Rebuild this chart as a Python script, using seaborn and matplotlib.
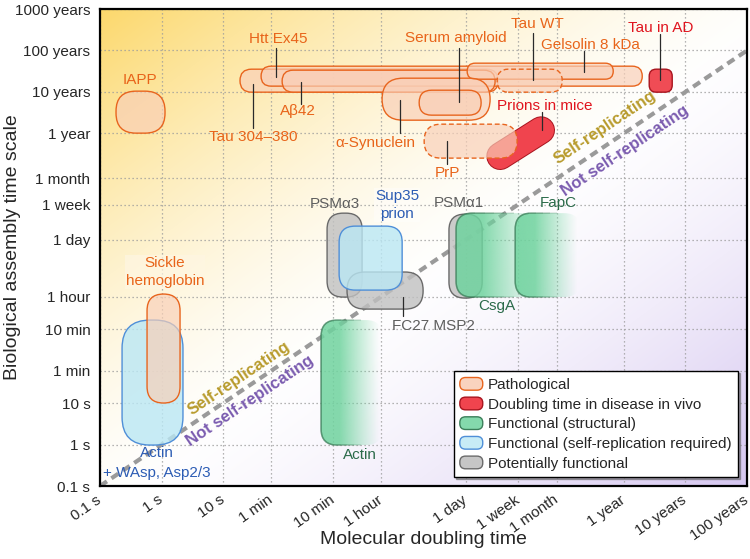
import numpy as np
import pandas as pd
import matplotlib
matplotlib.use("Agg")
import matplotlib.pyplot as plt
from matplotlib.patches import FancyBboxPatch, Rectangle, Patch
from matplotlib.legend_handler import HandlerPatch
from matplotlib.colors import to_rgba, to_rgb
import seaborn as sns

sns.set_theme(style="white")
plt.rcParams["font.family"] = ["Liberation Sans", "DejaVu Sans"]

# ---------------- time units (seconds) ----------------
MIN = 60.0
HOUR = 3600.0
DAY = 86400.0
WEEK = 7 * DAY
MONTH = 30.44 * DAY
YEAR = 365.25 * DAY

# ---------------- data ----------------
tick_values_x = [0.1, 1, 10, MIN, 10 * MIN, HOUR, DAY, WEEK, MONTH, YEAR, 10 * YEAR, 100 * YEAR]
tick_labels_x = ["0.1 s", "1 s", "10 s", "1 min", "10 min", "1 hour", "1 day", "1 week",
                 "1 month", "1 year", "10 years", "100 years"]
tick_values_y = tick_values_x + [1000 * YEAR]
tick_labels_y = tick_labels_x + ["1000 years"]

box_names = ["Actin + WAsp, Asp2/3", "Sickle hemoglobin", "IAPP", "Tau 304–380", "Htt Ex45", "Aβ42",
             "Gelsolin 8 kDa", "Tau WT", "α-Synuclein", "Serum amyloid", "Tau in AD", "PrP",
             "PSMα3", "FC27 MSP2", "Sup35 prion", "Actin", "PSMα1", "CsgA", "FapC"]
box_category = ["selfrep", "path", "path", "path", "path", "path",
                "path", "path", "path", "path", "vivo", "path",
                "potential", "potential", "selfrep", "struct", "potential", "struct", "struct"]
# molecular doubling time range (s)
doubling_lo = [0.228, 0.58, 0.182, 18.7, 41.1, 90.2,
               9.08e4, 2.79e5, 3.78e3, 1.51e4, 8.17e7, 1.82e4,
               484, 1.02e3, 759, 387, 4.6e4, 6.0e4, 5.46e5]
doubling_hi = [2.22, 1.99, 1.135, 2.89e5, 6.3e7, 2.58e5,
               2.13e7, 3.16e6, 2.14e5, 1.53e5, 1.93e8, 5.87e5,
               1.79e3, 1.75e4, 8.0e3, 3.79e3, 1.59e5, 1.67e6, 6.2e6]
# biological assembly time range (s)
assembly_lo = [0.97, 10, 3.21e7, 3.12e8, 4.36e8, 3.12e8,
               6.41e8, 3.12e8, 6.59e7, 8.71e7, 3.12e8, 8.02e6,
               3.58e3, 1.84e3, 5.28e3, 0.97, 3.39e3, 3.58e3, 3.58e3]
assembly_hi = [1000, 4.24e3, 3.30e8, 1.117e9, 1.32e9, 1.057e9,
               1.56e9, 1.117e9, 6.78e8, 3.48e8, 1.117e9, 5.28e7,
               3.78e5, 1.44e4, 1.84e5, 1000, 3.58e5, 3.78e5, 3.78e5]

prions_mice_doubling = [3.12e5, 1.44e6]
prions_mice_assembly = [8.95e6, 3.78e7]

diagonal_time = [0.1, 100 * YEAR]

legend_labels = ["Pathological", "Doubling time in disease in vivo", "Functional (structural)",
                 "Functional (self-replication required)", "Potentially functional"]
legend_keys = ["path", "vivo", "struct", "selfrep", "potential"]

# ---------------- styles ----------------
corner_px = [28, 16.5, 20, 11.5, 10, 11, 8, 11, 21, 12.5, 7, 17, 16, 18, 16, 16, 16, 16, 16]
dashed_edge = {"Tau WT", "PrP"}
style = {
    "path": dict(fc=to_rgba("#F9CFB7", 0.68), ec="#E8651E", legend_fc="#F9D3BE"),
    "vivo": dict(fc=to_rgba("#F0424C", 0.95), ec="#A8141E", legend_fc="#F0444E"),
    "struct": dict(fc=to_rgba("#6FD39E", 0.85), ec="#3C7F5A", legend_fc="#84D9AC"),
    "selfrep": dict(fc=to_rgba("#BAE7F4", 0.8), ec="#4F8FD8", legend_fc="#C8ECF6"),
    "potential": dict(fc=to_rgba("#C0C0C0", 0.8), ec="#6A6A6A", legend_fc="#C6C6C6"),
}
C_OR, C_RED, C_BLUE, C_GRAY, C_GREEN = "#E8641A", "#E0141E", "#2C5CB4", "#5E5E5E", "#2B6B4A"

L = np.log10

fig = plt.figure(figsize=(7.5, 5.59), dpi=100)
ax = fig.add_axes([100 / 750, 73 / 559, 647 / 750, 477 / 559])
xmin, xmax = L(0.1), L(100 * YEAR)
ymin, ymax = L(0.1), L(1000 * YEAR)
ppx = 647 / (xmax - xmin)
ppy = 477 / (ymax - ymin)
asp = ppx / ppy

# background gradient
ny, nx = 300, 400
gx = np.linspace(0, 1, nx)[None, :]
gy = np.linspace(0, 1, ny)[:, None]  # 0 = top
t = (gx + gy) / 2
wy = np.clip(1 - t / 0.55, 0, 1) ** 1.5
wp = np.clip((t - 0.5) / 0.5, 0, 1) ** 1.5
yel = np.array([252, 216, 108]) / 255
pur = np.array([213, 198, 240]) / 255
bg = (1 - wy - wp)[..., None] * 1.0 + wy[..., None] * yel + wp[..., None] * pur
ax.imshow(bg, extent=(xmin, xmax, ymin, ymax), origin="upper", aspect="auto", zorder=0,
          interpolation="bilinear")


def rbox(x0, x1, y0, y1, rpx, **kw):
    w, h = x1 - x0, y1 - y0
    r = min(rpx / ppx, w / 2 * 0.999, h / asp / 2 * 0.999)
    return FancyBboxPatch((x0, y0), w, h, boxstyle=f"round,pad=0,rounding_size={r}",
                          mutation_aspect=asp, **kw)


# diagonal (seaborn)
diag = pd.DataFrame({"x": L(diagonal_time), "y": L(diagonal_time)})
sns.lineplot(data=diag, x="x", y="y", ax=ax, color="#9A9A9A", lw=3.0, zorder=2)
ax.lines[-1].set_dashes((2.0, 1.3))

z = 3
for i, name in enumerate(box_names):
    cat = box_category[i]
    st = style[cat]
    x0, x1 = L(doubling_lo[i]), L(doubling_hi[i])
    y0, y1 = L(assembly_lo[i]), L(assembly_hi[i])
    if name == "PrP":
        # prions in mice capsule is drawn beneath PrP
        px_ = L(prions_mice_doubling)
        py_ = L(prions_mice_assembly)
        ax.plot(px_, py_, color="#A8141E", lw=20.0, solid_capstyle="round", zorder=z)
        ax.plot(px_, py_, color="#F0444E", lw=18.6, solid_capstyle="round", zorder=z + 0.01)
        z += 0.1
    if cat == "struct":
        clip = rbox(x0, x1, y0, y1, corner_px[i], fc="none", ec="none", zorder=z)
        ax.add_patch(clip)
        n = 256
        u = np.linspace(0, 1, n)
        alpha = np.clip((0.95 - u) / 0.65, 0, 1) ** 1.1 * 0.85
        rgba = np.zeros((1, n, 4))
        rgba[..., :3] = to_rgb("#6FD39E")
        rgba[..., 3] = alpha
        im = ax.imshow(rgba, extent=(x0, x1, y0, y1), origin="lower", aspect="auto",
                       interpolation="bilinear", zorder=z)
        im.set_clip_path(clip)
        for k in range(1, 6):
            e = rbox(x0, x1, y0, y1, corner_px[i], fc="none", ec=st["ec"], lw=1.0,
                     alpha=0.25, zorder=z + 0.01)
            ax.add_patch(e)
            cr = Rectangle((x0 - 0.2, y0 - 0.2), (x1 - x0) * (0.1 + 0.11 * k) + 0.2, y1 - y0 + 0.4,
                           transform=ax.transData)
            e.set_clip_path(cr)
    else:
        ls = (0, (3.5, 2.0)) if name in dashed_edge else "-"
        p = rbox(x0, x1, y0, y1, corner_px[i], fc=st["fc"], ec=st["ec"], lw=1.0,
                 linestyle=ls, zorder=z)
        ax.add_patch(p)
    z += 0.1

ax.set_xlim(xmin, xmax)
ax.set_ylim(ymin, ymax)

# labels: text, x(log s), y(log s), colour, pointer (x, y_from, y_to)
labels = [
    ("IAPP", -0.351, 8.788, C_OR, None),
    ("Tau 304–380", 1.483, 7.414, C_OR, (1.483, 8.70, 7.63)),
    ("Htt Ex45", 1.889, 9.776, C_OR, (1.856, 9.56, 8.86)),
    ("Aβ42", 2.213, 8.040, C_OR, (2.262, 8.74, 8.21)),
    ("α-Synuclein", 3.463, 7.269, C_OR, (3.869, 8.31, 7.51)),
    ("Serum amyloid", 4.777, 9.800, C_OR, (4.826, 9.56, 8.26)),
    ("PrP", 4.631, 6.546, C_OR, (4.631, 7.32, 6.76)),
    ("Tau WT", 6.092, 10.138, C_OR, (6.027, 9.92, 8.79)),
    ("Gelsolin 8 kDa", 6.952, 9.632, C_OR, (6.855, 9.49, 8.98)),
    ("Tau in AD", 8.104, 10.041, C_RED, (8.088, 9.90, 8.79)),
    ("Prions in mice", 6.222, 8.161, C_RED, (6.173, 8.02, 7.58)),
    ("Actin", -0.075, -0.204, C_BLUE, None),
    ("+ WAsp, Asp2/3", -0.075, -0.687, C_BLUE, None),
    ("PSMα3", 2.814, 5.798, C_GRAY, None),
    ("PSMα1", 4.826, 5.823, C_GRAY, None),
    ("FC27 MSP2", 4.404, 2.857, C_GRAY, (3.917, 3.56, 3.10)),
    ("CsgA", 5.443, 3.339, C_GREEN, None),
    ("FapC", 6.433, 5.823, C_GREEN, None),
    ("Actin", 3.219, -0.253, C_GREEN, None),
]
for txt, x, y, c, ptr in labels:
    ax.text(x, y, txt, color=c, fontsize=11, ha="center", va="center", zorder=20)
    if ptr is not None:
        ax.plot([ptr[0], ptr[0]], [ptr[1], ptr[2]], color="#2a2a2a", lw=0.9, zorder=19)

ax.text(0.055, 4.159, "Sickle\nhemoglobin", color=C_OR, fontsize=11, ha="center", va="center",
        linespacing=1.35, zorder=20,
        bbox=dict(boxstyle="square,pad=0.05", fc="#FEF6E2", ec="none", alpha=0.7))
ax.text(3.820, 5.774, "Sup35\nprion", color=C_BLUE, fontsize=11, ha="center", va="center",
        linespacing=1.35, zorder=20,
        bbox=dict(boxstyle="square,pad=0.05", fc="white", ec="none", alpha=0.4))

# self-replicating annotations
rot = np.degrees(np.arctan(ppy / ppx))
for (x, y, txt, c) in [(1.256, 1.604, "Self-replicating", "#B89B2C"),
                       (1.434, 1.049, "Not self-replicating", "#7B5CB0"),
                       (7.195, 7.655, "Self-replicating", "#B89B2C"),
                       (7.520, 7.076, "Not self-replicating", "#7B5CB0")]:
    ax.text(x, y, txt, color=c, fontsize=12, fontweight="bold", rotation=rot,
            rotation_mode="anchor", ha="center", va="center", zorder=21)

# axes styling
ax.set_xticks(L(tick_values_x))
ax.set_xticklabels(tick_labels_x, rotation=35, ha="right", va="center",
                   rotation_mode="anchor", fontsize=11)
ax.set_yticks(L(tick_values_y))
ax.set_yticklabels(tick_labels_y, fontsize=11)
ax.tick_params(axis="x", length=0, pad=9)
ax.tick_params(axis="y", length=0, pad=7)
ax.grid(True, linestyle=(0, (1, 2.2)), color="#9C9C9C", lw=0.9)
ax.set_axisbelow(True)
for sp in ax.spines.values():
    sp.set_color("black")
    sp.set_linewidth(1.6)
    sp.set_zorder(30)

ax.set_xlabel("Molecular doubling time", fontsize=14)
ax.set_ylabel("Biological assembly time scale", fontsize=14)
ax.xaxis.set_label_coords(0.5, -0.095)
ax.yaxis.set_label_coords(-0.122, 0.5)


def round_handle(legend, orig_handle, xdescent, ydescent, width, height, fontsize):
    return FancyBboxPatch((-xdescent, -ydescent), width, height,
                          boxstyle=f"round,pad=0,rounding_size={height * 0.45}")


handles = [Patch(facecolor=style[k]["legend_fc"], edgecolor=style[k]["ec"], lw=1.0, label=lab)
           for k, lab in zip(legend_keys, legend_labels)]
leg = ax.legend(handles=handles, handler_map={Patch: HandlerPatch(patch_func=round_handle)},
                loc="lower right", fontsize=11, frameon=True, fancybox=False, framealpha=1,
                edgecolor="black", borderaxespad=0.6, labelspacing=0.33, handlelength=1.5,
                handleheight=0.9, handletextpad=0.35, borderpad=0.4,
                shadow={"ox": 1.5, "oy": -1.5, "color": "0.35"})
leg.get_frame().set_linewidth(1.0)
leg.set_zorder(40)

fig.savefig("out.png", dpi=100)
